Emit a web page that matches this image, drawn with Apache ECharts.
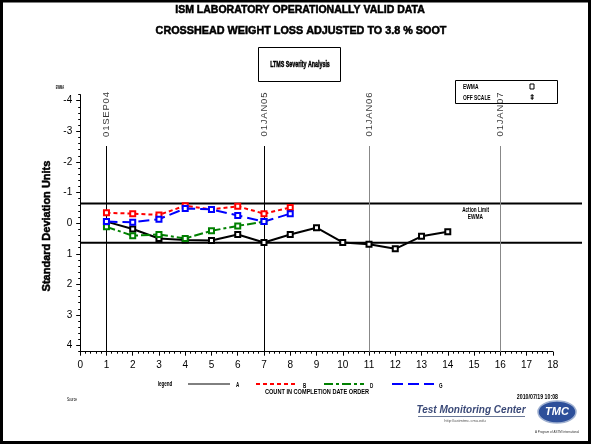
<!DOCTYPE html>
<html>
<head>
<meta charset="utf-8">
<script src="https://cdn.jsdelivr.net/npm/echarts@6/dist/echarts.min.js"></script>
<style>
  html, body { margin: 0; padding: 0; background: #fff; }
  #chart { width: 592px; height: 445px; }
</style>
</head>
<body>
<div id="chart"></div>
<script>
// EWMA standard-deviation values by completion-date count, one array per lab
const countsA = [1, 2, 3, 4, 5, 6, 7, 8, 9, 10, 11, 12, 13, 14];
const labA = [-0.05, 0.19, 0.50, 0.55, 0.57, 0.37, 0.63, 0.37, 0.15, 0.63, 0.69, 0.84, 0.43, 0.28];
const countsB = [1, 2, 3, 4, 5, 6, 7, 8];
const labB = [-0.34, -0.31, -0.27, -0.57, -0.45, -0.55, -0.31, -0.51];
const countsD = [1, 2, 3, 4, 5, 6, 7];
const labD = [0.12, 0.41, 0.37, 0.50, 0.25, 0.09, -0.05];
const countsG = [1, 2, 3, 4, 5, 6, 7, 8];
const labG = [-0.05, -0.03, -0.13, -0.48, -0.45, -0.25, -0.05, -0.31];

// action limits (EWMA)
const actionLimits = [-0.64, 0.64];

// calendar markers on the count axis
const dateCounts = [1, 7, 11, 16];
const dateLabels = ['01SEP04', '01JAN05', '01JAN06', '01JAN07'];
const dateLineColors = ['#000', '#000', '#888', '#888'];

// axis ticks
const yTickLabels = [-4, -3, -2, -1, 0, 1, 2, 3, 4];
const yMinorTicks = [];
for (let v = -42; v <= 42; v += 2) yMinorTicks.push(v / 10);

const Y_MIN = -4.2, Y_MAX = 4.2;

const chart = echarts.init(document.getElementById('chart'), null, { renderer: 'canvas' });

const sans = "'Liberation Sans', Arial, sans-serif";

function pair(xs, ys) { return xs.map((x, i) => [x, ys[i]]); }

const lineSeries = (name, xs, ys, color, dash, width) => ({
  name, type: 'line', xAxisIndex: 0, yAxisIndex: 0,
  data: pair(xs, ys),
  symbol: 'emptyRect', symbolSize: 5,
  itemStyle: { color: color, borderColor: color, borderWidth: 1 },
  lineStyle: { color: color, width: width, type: dash },
  animation: false, z: 5
});

// condensed text helper (graphic text squeezed horizontally)
function narrowText(x, y, text, size, opts) {
  opts = opts || {};
  const style = {
    text: text, fill: opts.fill || '#000',
    font: (opts.weight || 'bold') + ' ' + size + 'px ' + sans,
    align: opts.align || 'left', verticalAlign: 'middle'
  };
  if (opts.heavy) { style.stroke = '#000'; style.lineWidth = opts.heavy; }
  return { type: 'text', x: x, y: y, scaleX: opts.scaleX || 0.7, z: opts.z || 10, style: style };
}

// heavy text: bold glyphs with a thin outline stroke
function heavyText(x, y, text, size, extra) {
  return Object.assign({
    type: 'text', x: x, y: y,
    style: {
      text: text, fill: '#000', stroke: '#000', lineWidth: 0.5,
      font: 'bold ' + size + 'px ' + sans, align: 'center', verticalAlign: 'middle'
    }
  }, extra || {});
}

const option = {
  backgroundColor: '#fff',
  animation: false,
  grid: [
    { left: 80.2, right: 39.2, top: 94.6, bottom: 93.3 },
    { left: 80.2, right: 10, top: 94.6, bottom: 93.3 }
  ],
  xAxis: [
    {
      gridIndex: 0, type: 'value', min: 0, max: 18, interval: 1,
      axisLine: { onZero: false, lineStyle: { color: '#000', width: 1 } },
      axisTick: { length: 4, lineStyle: { color: '#000' } },
      minorTick: { show: true, splitNumber: 5, length: 2, lineStyle: { color: '#000' } },
      axisLabel: { color: '#000', fontSize: 10, fontFamily: sans, margin: 9 },
      splitLine: { show: false }
    },
    { gridIndex: 1, type: 'value', min: 0, max: 1, show: false }
  ],
  yAxis: [
    {
      gridIndex: 0, type: 'value', min: Y_MIN, max: Y_MAX, inverse: true,
      axisLine: { show: true, onZero: false, lineStyle: { color: '#000', width: 1 } },
      axisTick: { show: true, length: 4, customValues: yTickLabels, lineStyle: { color: '#000' } },
      axisLabel: { color: '#000', fontSize: 10, fontFamily: sans, margin: 8, customValues: yTickLabels },
      splitLine: { show: false }
    },
    {
      gridIndex: 0, type: 'value', min: Y_MIN, max: Y_MAX, inverse: true, position: 'left',
      axisLine: { show: false, onZero: false },
      axisTick: { show: true, length: 2, customValues: yMinorTicks, lineStyle: { color: '#000' } },
      axisLabel: { show: false },
      splitLine: { show: false }
    },
    { gridIndex: 1, type: 'value', min: Y_MIN, max: Y_MAX, inverse: true, show: false }
  ],
  series: [
    // action limit lines spanning the full width
    ...actionLimits.map(v => ({
      type: 'line', xAxisIndex: 1, yAxisIndex: 2,
      data: [[0, v], [1, v]], symbol: 'none',
      lineStyle: { color: '#000', width: 2 }, z: 2, animation: false
    })),
    // calendar marker lines
    {
      type: 'line', xAxisIndex: 0, yAxisIndex: 0, data: [], symbol: 'none',
      markLine: {
        symbol: 'none', silent: true, animation: false,
        label: { show: false },
        data: dateCounts.map((c, i) => [
          { coord: [c, -2.52], lineStyle: { color: dateLineColors[i], width: 1, type: 'solid' } },
          { coord: [c, Y_MAX] }
        ])
      }
    },
    // calendar marker labels
    {
      type: 'scatter', xAxisIndex: 0, yAxisIndex: 0, symbolSize: 0,
      data: dateCounts.map((c, i) => ({ value: [c, -3.55], name: dateLabels[i] })),
      label: {
        show: true, position: 'inside', rotate: 90,
        formatter: p => p.name.split('').join('\u200A'),
        color: '#000', fontSize: 9.5, fontFamily: sans
      },
      silent: true, animation: false, z: 6
    },
    lineSeries('A', countsA, labA, '#000000', 'solid', 2),
    lineSeries('B', countsB, labB, '#ff0000', [4, 3], 2),
    lineSeries('D', countsD, labD, '#008000', [9, 3, 3, 3], 2),
    lineSeries('G', countsG, labG, '#0000ff', [11, 5], 2)
  ],
  graphic: [
    // outer frame
    { type: 'rect', shape: { x: 1.5, y: 1, width: 588, height: 441.5 },
      style: { fill: 'none', stroke: '#000', lineWidth: 3 }, z: 100 },
    // titles
    heavyText(300, 10, 'ISM LABORATORY OPERATIONALLY VALID DATA', 10.5),
    heavyText(301, 31, 'CROSSHEAD WEIGHT LOSS ADJUSTED TO 3.8 % SOOT', 10.8),
    // severity analysis box
    { type: 'rect', shape: { x: 258.5, y: 47.5, width: 82, height: 34 },
      style: { fill: '#fff', stroke: '#000', lineWidth: 1 } },
    narrowText(300, 64, 'LTMS Severity Analysis', 9.5, { align: 'center', scaleX: 0.56, heavy: 0.5 }),
    // symbol key box
    { type: 'rect', shape: { x: 455.5, y: 80.5, width: 102, height: 23 },
      style: { fill: '#fff', stroke: '#000', lineWidth: 1 }, z: 3 },
    narrowText(463, 87, 'EWMA', 7.5, { scaleX: 0.65 }),
    { type: 'rect', x: 530, y: 84, z: 10, shape: { x: 0, y: 0, width: 4, height: 5 },
      style: { fill: 'none', stroke: '#000', lineWidth: 1 } },
    narrowText(463, 98, 'OFF SCALE', 7.5, { scaleX: 0.65 }),
    { type: 'text', x: 532, y: 98, z: 10, style: { text: '⇞', fill: '#000',
      font: "bold 8px 'DejaVu Sans', sans-serif", align: 'center', verticalAlign: 'middle' } },
    // tiny axis unit tag
    narrowText(60, 88, 'EWMA', 4.5, { align: 'center', scaleX: 0.6 }),
    // y axis title
    heavyText(47, 226, 'Standard Deviation Units', 11, { rotation: Math.PI / 2 }),
    // action limit tags
    narrowText(489, 210, 'Action Limit', 8, { align: 'right', scaleX: 0.58 }),
    narrowText(483, 217, 'EWMA', 8, { align: 'right', scaleX: 0.6 }),
    // bottom key
    narrowText(165, 384, 'legend', 6.5, { align: 'center', scaleX: 0.7 }),
    { type: 'line', shape: { x1: 188, y1: 384, x2: 230, y2: 384 }, style: { stroke: '#000', lineWidth: 1 } },
    narrowText(236, 385, 'A', 6.5),
    { type: 'line', shape: { x1: 256, y1: 384, x2: 298, y2: 384 }, style: { stroke: '#ff0000', lineWidth: 2, lineDash: [4, 3] } },
    narrowText(303, 386, 'B', 6.5),
    { type: 'line', shape: { x1: 324, y1: 384, x2: 364, y2: 384 }, style: { stroke: '#008000', lineWidth: 2, lineDash: [9, 3, 3, 3] } },
    narrowText(370, 386, 'D', 6.5),
    { type: 'line', shape: { x1: 392, y1: 384, x2: 434, y2: 384 }, style: { stroke: '#0000ff', lineWidth: 2, lineDash: [11, 5] } },
    narrowText(439, 386, 'G', 6.5),
    // x axis title
    narrowText(317, 392, 'COUNT IN COMPLETION DATE ORDER', 8, { align: 'center', scaleX: 0.7 }),
    // footer
    narrowText(67, 400, 'Source', 4.5, { weight: 'normal' }),
    narrowText(558, 397, '2010/07/19 10:08', 7, { align: 'right', scaleX: 0.75 }),
    { type: 'text', x: 471, y: 410, style: { text: 'Test Monitoring Center', fill: '#3b4a78',
      font: "italic bold 10px " + sans, align: 'center', verticalAlign: 'middle' } },
    { type: 'line', shape: { x1: 418, y1: 416.5, x2: 525, y2: 416.5 }, style: { stroke: '#6a7896', lineWidth: 1 } },
    { type: 'text', x: 465, y: 421, style: { text: 'http://astmtmc.cmu.edu', fill: '#555',
      font: "4px " + sans, align: 'center', verticalAlign: 'middle' } },
    { type: 'ellipse', shape: { cx: 557, cy: 412, rx: 19, ry: 11 },
      style: { fill: '#2d4f9a', stroke: '#9fb0d0', lineWidth: 1.5 } },
    { type: 'text', x: 557, y: 412, style: { text: 'TMC', fill: '#fff',
      font: "italic bold 11px " + sans, align: 'center', verticalAlign: 'middle' } },
    { type: 'text', x: 557, y: 432, style: { text: 'A Program of ASTM International', fill: '#333',
      font: "3px " + sans, align: 'center', verticalAlign: 'middle' } }
  ]
};

chart.setOption(option);
</script>
</body>
</html>
